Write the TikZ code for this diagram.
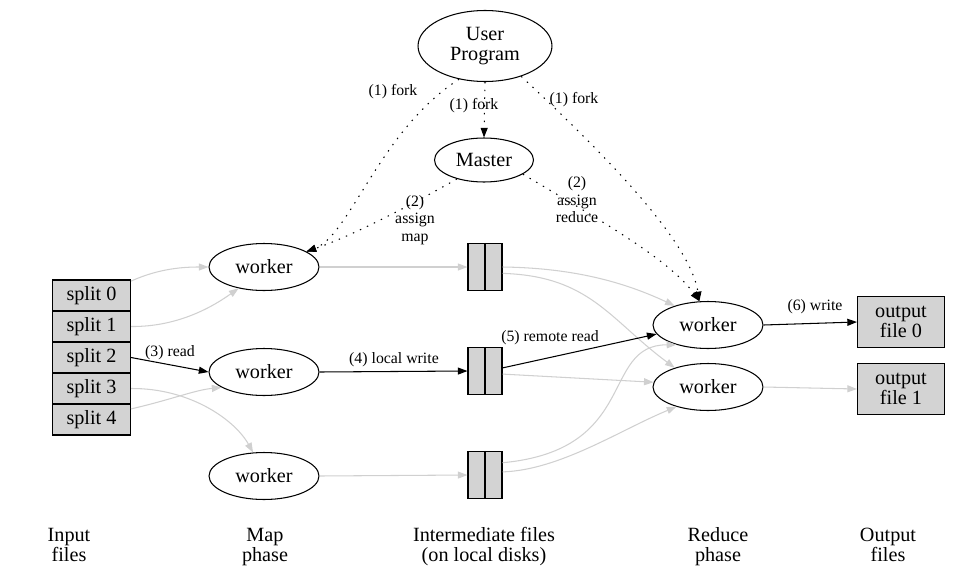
\documentclass[tikz,border=0pt]{standalone}
\usepackage{fontspec}
\setmainfont{Liberation Serif}
\usetikzlibrary{shapes.geometric,arrows.meta}
\definecolor{boxgray}{RGB}{211,211,211}
\definecolor{edgegray}{RGB}{208,208,208}

\begin{document}
\begin{tikzpicture}[x=0.02cm,y=-0.02cm,
    txt/.style={font=\fontsize{11.5}{11}\selectfont,align=center},
    worker/.style={txt,ellipse,draw,line width=0.6pt,minimum width=2.2cm,minimum height=0.94cm,inner sep=0pt},
    split/.style={txt,rectangle,draw,fill=boxgray,line width=0.6pt,minimum width=1.56cm,minimum height=0.62cm,inner sep=0pt},
    disk/.style={rectangle,draw,fill=boxgray,line width=0.6pt,minimum width=0.68cm,minimum height=0.94cm,inner sep=0pt},
    outfile/.style={txt,rectangle,draw,fill=boxgray,line width=0.6pt,minimum width=1.74cm,minimum height=1.02cm,inner sep=0pt},
    caption/.style={txt,anchor=base},
    lbl/.style={font=\fontsize{9}{10}\selectfont,align=center,inner sep=0pt},
    blk/.style={-{Triangle[length=5.5pt,width=4pt]},line width=0.6pt},
    gry/.style={blk,draw=edgegray},
    fork/.style={blk,dash pattern=on 0.8pt off 3.6pt}]
    \useasboundingbox (0,0) rectangle (960,585);

    \node[worker,minimum width=2.68cm,minimum height=1.42cm] (user) at (485,46) {User\\Program};
    \node[worker,minimum width=1.98cm,minimum height=0.88cm] (master) at (484,160) {Master};
    \node[worker] (m1) at (264,267) {worker};
    \node[worker] (m2) at (264,372) {worker};
    \node[worker] (m3) at (264,476) {worker};
    \node[worker] (r1) at (708,325) {worker};
    \node[worker] (r2) at (708,387) {worker};
    \foreach \i in {0,...,4}
        \node[split] (s\i) at (91.5,295.5+31*\i) {split \i};
    \node[disk] (f1) at (485,267) {};
    \node[disk] (f2) at (485,371) {};
    \node[disk] (f3) at (485,475) {};
    \foreach \f in {f1,f2,f3}
        \draw[line width=0.6pt] (\f.north) -- (\f.south);
    \node[outfile] (o0) at (901,322) {output\\file 0};
    \node[outfile] (o1) at (901,389) {output\\file 1};

    \draw[fork] (user.232) .. controls (380,130) and (350,235) .. (m1.20);
    \draw[fork] (user.270) -- (master.north);
    \draw[fork] (user.-40) .. controls (600,150) and (690,240) .. (r1.110);
    \draw[fork] (master.215) .. controls (420,200) and (355,235) .. (m1.20);
    \draw[fork] (master.-20) .. controls (600,220) and (670,260) .. (r1.110);
    \node[lbl] (fk1) at (393,92) {(1) fork};
    \node[lbl] (fk2) at (474,106) {(1) fork};
    \node[lbl] (fk3) at (574,100) {(1) fork};
    \node[lbl] (as1) at (415,220) {(2)\\assign\\map};
    \node[lbl] (as2) at (577,200) {(2)\\assign\\reduce};

    \draw[gry] (s0.20) .. controls (160,268) and (185,267) .. (m1.west);
    \draw[gry] (s1.east) .. controls (180,327) and (215,305) .. (m1.220);
    \draw[blk] (s2.east) -- (m2.west);
    \draw[gry] (s3.east) .. controls (190,388) and (235,420) .. (m3.115);
    \draw[gry] (s4.15) .. controls (170,400) and (195,390) .. (m2.200);
    \node[lbl] (rd) at (170,353) {(3) read};

    \draw[gry] (m1.east) -- (f1.west);
    \draw[blk] (m2.east) -- (f2.west);
    \draw[gry] (m3.east) -- (f3.west);
    \node[lbl] (lw) at (394,360) {(4) local write};

    \draw[gry] (f1.east) .. controls (580,268) and (630,285) .. (r1.150);
    \draw[gry] (f1.-20) .. controls (590,276) and (610,320) .. (r2.150);
    \draw[blk] (f2.10) -- (r1.190);
    \draw[gry] (f2.-10) -- (r2.175);
    \draw[gry] (f3.35) .. controls (640,450) and (600,345) .. (r1.212);
    \draw[gry] (f3.10) .. controls (560,470) and (620,430) .. (r2.212);
    \node[lbl] (rr) at (550,338) {(5) remote read};

    \draw[blk] (r1.east) -- (o0.west);
    \draw[gry] (r2.east) -- (o1.west);
    \node[lbl] (wr) at (815,307) {(6) write};

    \node[caption] (c1) at (69,561) {Input\\files};
    \node[caption] (c2) at (265,561) {Map\\phase};
    \node[caption] (c3) at (484,561) {Intermediate files\\(on local disks)};
    \node[caption] (c4) at (718,561) {Reduce\\phase};
    \node[caption] (c5) at (888,561) {Output\\files};
\end{tikzpicture}
\end{document}
